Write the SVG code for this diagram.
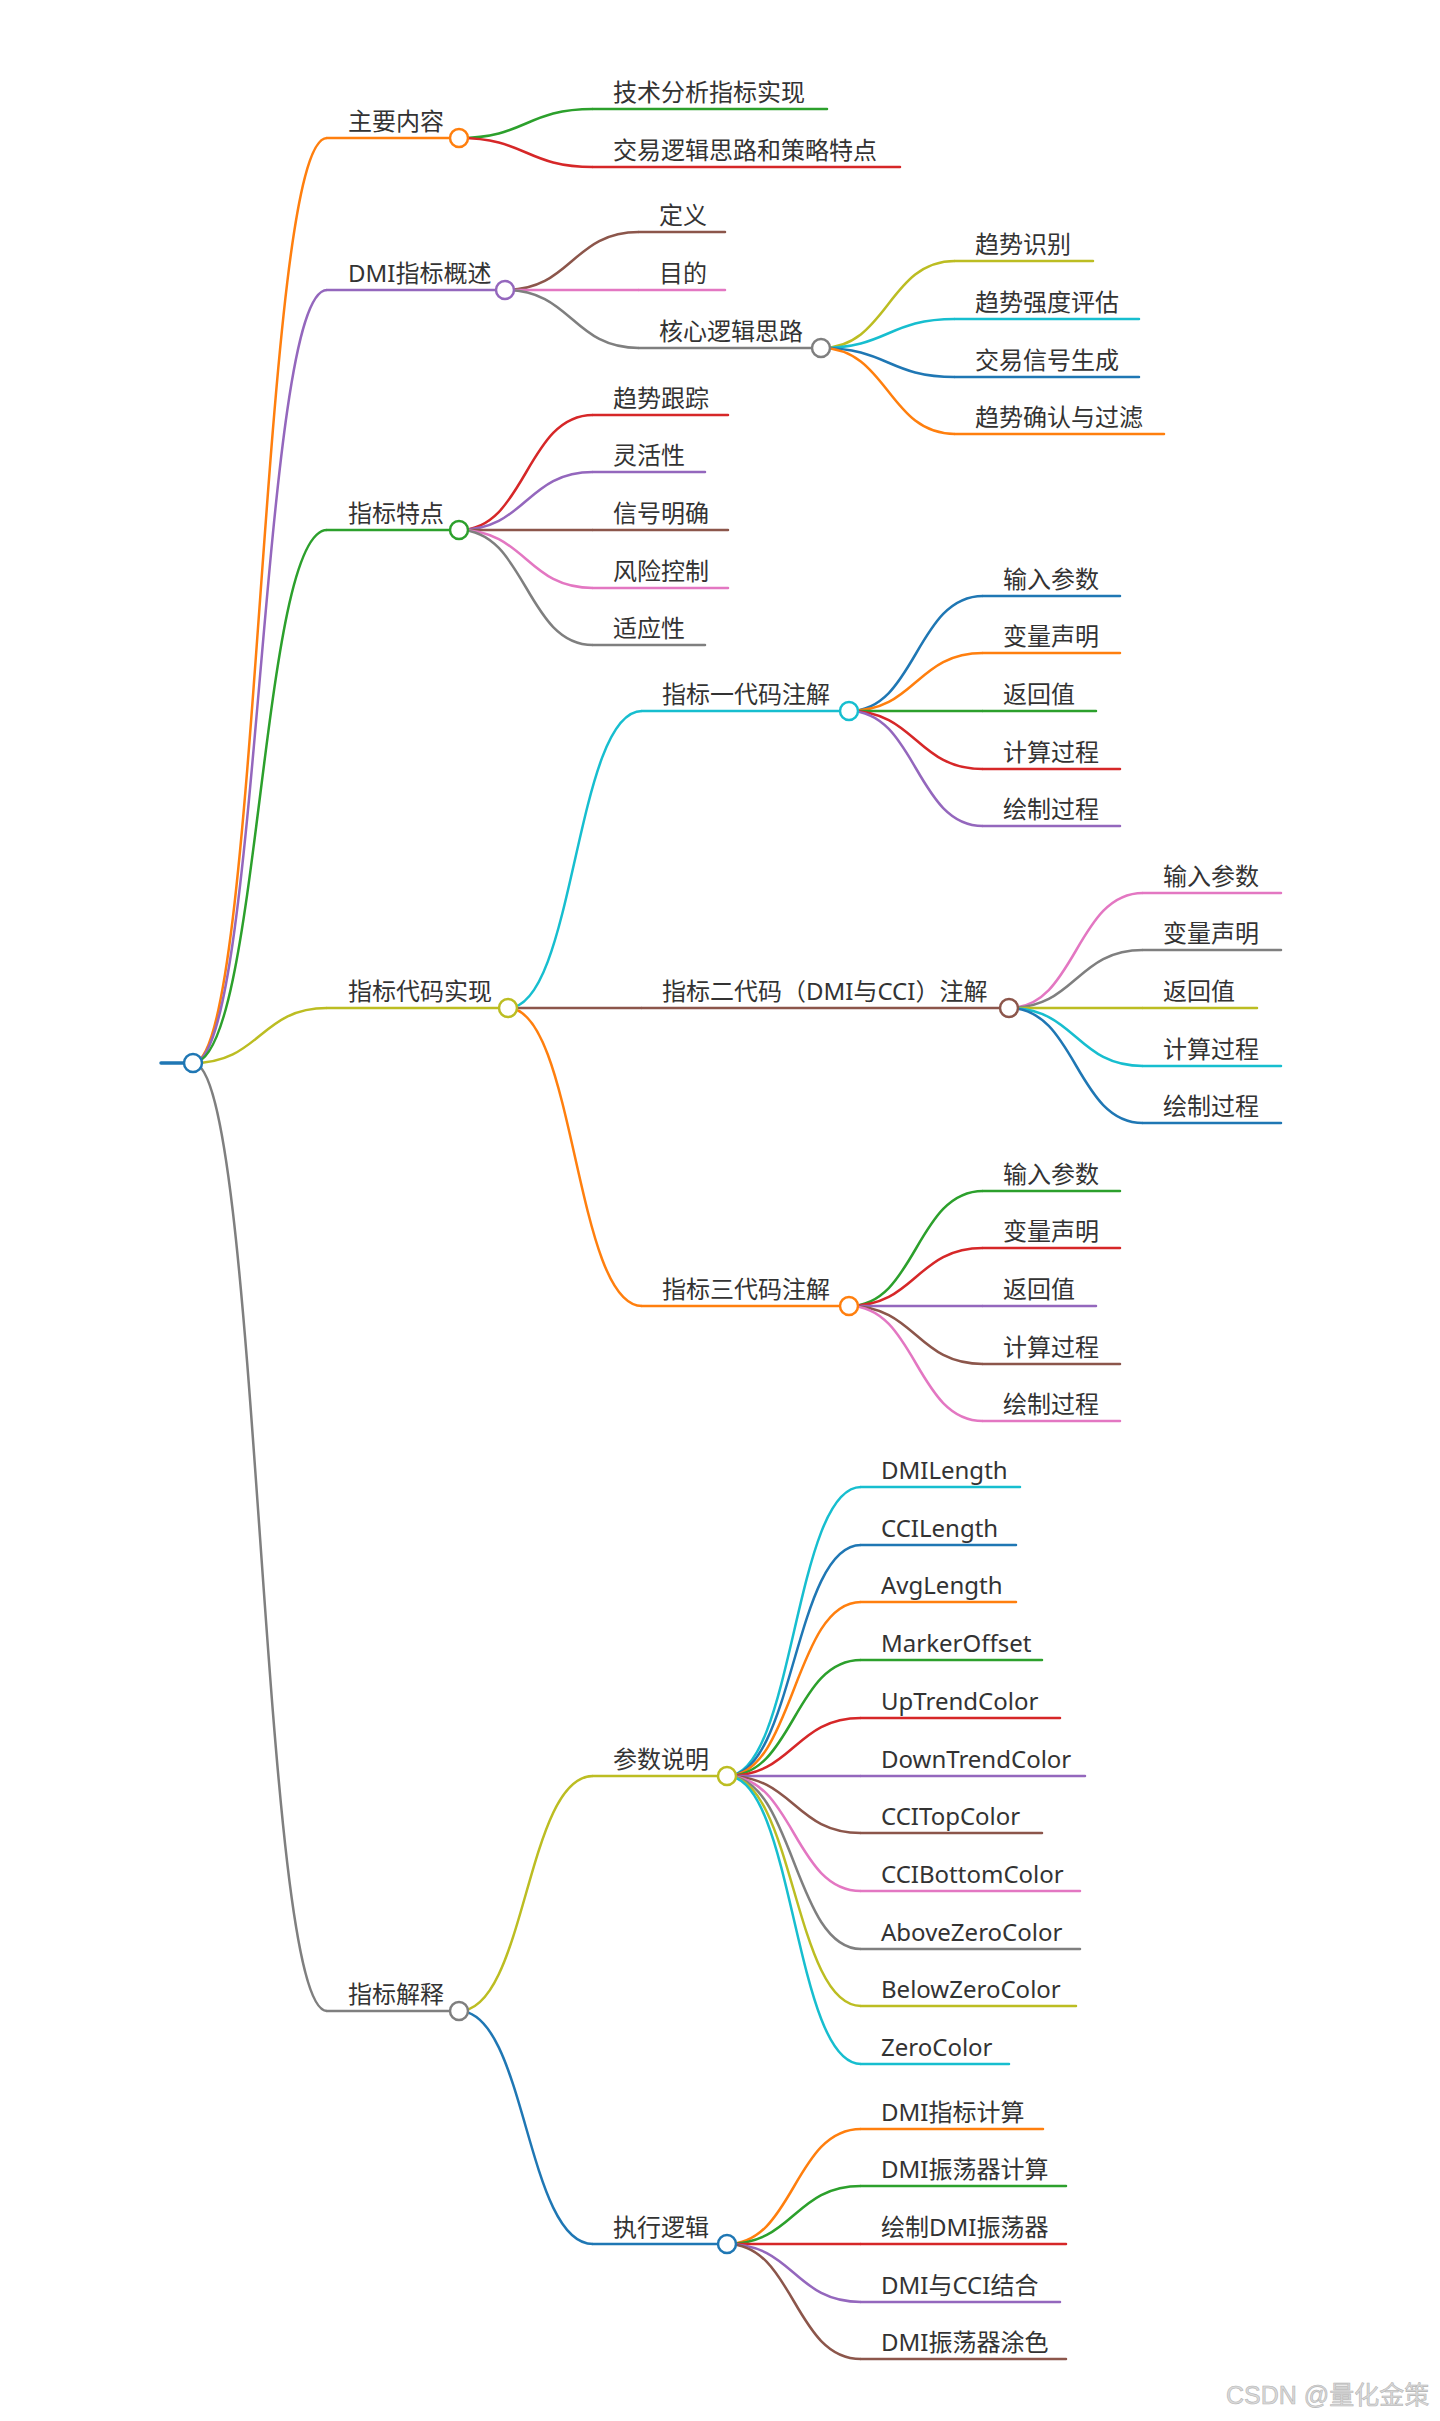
<svg xmlns="http://www.w3.org/2000/svg" width="1440" height="2421" viewBox="0 0 1440 2421">
<style>
.t{font-family:"Noto Sans","Noto Sans CJK SC",sans-serif;font-size:24px;fill:#333}
.u{fill:none;stroke-width:2.5;stroke-linecap:round}
.e{fill:none;stroke-width:2.5}
.c{fill:#fff;stroke-width:2.5}
.k0{stroke:#1f77b4}.k1{stroke:#ff7f0e}.k2{stroke:#2ca02c}.k3{stroke:#d62728}.k4{stroke:#9467bd}
.k5{stroke:#8c564b}.k6{stroke:#e377c2}.k7{stroke:#7f7f7f}.k8{stroke:#bcbd22}.k9{stroke:#17becf}
.wm{font-family:"Liberation Sans","Noto Sans CJK SC",sans-serif;font-size:25px;fill:#dadada;stroke:#b4b4b4;stroke-width:0.6}
</style>
<rect width="1440" height="2421" fill="#fff"/>
<g id="connectors">
<path class="e k1" d="M193,1063 C260,1063 260,138 327,138"/>
<path class="e k4" d="M193,1063 C260,1063 260,290 327,290"/>
<path class="e k2" d="M193,1063 C260,1063 260,530 327,530"/>
<path class="e k8" d="M193,1063 C260,1063 260,1008 327,1008"/>
<path class="e k7" d="M193,1063 C260,1063 260,2011 327,2011"/>
<path class="e k2" d="M459,138 C526,138 526,109 593,109"/>
<path class="e k3" d="M459,138 C526,138 526,167 593,167"/>
<path class="e k5" d="M505,290 C572,290 572,232 639,232"/>
<path class="e k6" d="M505,290 C572,290 572,290 639,290"/>
<path class="e k7" d="M505,290 C572,290 572,348 639,348"/>
<path class="e k8" d="M821,348 C888,348 888,261 955,261"/>
<path class="e k9" d="M821,348 C888,348 888,319 955,319"/>
<path class="e k0" d="M821,348 C888,348 888,377 955,377"/>
<path class="e k1" d="M821,348 C888,348 888,434 955,434"/>
<path class="e k3" d="M459,530 C526,530 526,415 593,415"/>
<path class="e k4" d="M459,530 C526,530 526,472 593,472"/>
<path class="e k5" d="M459,530 C526,530 526,530 593,530"/>
<path class="e k6" d="M459,530 C526,530 526,588 593,588"/>
<path class="e k7" d="M459,530 C526,530 526,645 593,645"/>
<path class="e k9" d="M508,1008 C575,1008 575,711 642,711"/>
<path class="e k5" d="M508,1008 C575,1008 575,1008 642,1008"/>
<path class="e k1" d="M508,1008 C575,1008 575,1306 642,1306"/>
<path class="e k0" d="M849,711 C916,711 916,596 983,596"/>
<path class="e k1" d="M849,711 C916,711 916,653 983,653"/>
<path class="e k2" d="M849,711 C916,711 916,711 983,711"/>
<path class="e k3" d="M849,711 C916,711 916,769 983,769"/>
<path class="e k4" d="M849,711 C916,711 916,826 983,826"/>
<path class="e k6" d="M1009,1008 C1076,1008 1076,893 1143,893"/>
<path class="e k7" d="M1009,1008 C1076,1008 1076,950 1143,950"/>
<path class="e k8" d="M1009,1008 C1076,1008 1076,1008 1143,1008"/>
<path class="e k9" d="M1009,1008 C1076,1008 1076,1066 1143,1066"/>
<path class="e k0" d="M1009,1008 C1076,1008 1076,1123 1143,1123"/>
<path class="e k2" d="M849,1306 C916,1306 916,1191 983,1191"/>
<path class="e k3" d="M849,1306 C916,1306 916,1248 983,1248"/>
<path class="e k4" d="M849,1306 C916,1306 916,1306 983,1306"/>
<path class="e k5" d="M849,1306 C916,1306 916,1364 983,1364"/>
<path class="e k6" d="M849,1306 C916,1306 916,1421 983,1421"/>
<path class="e k8" d="M459,2011 C526,2011 526,1776 593,1776"/>
<path class="e k0" d="M459,2011 C526,2011 526,2244 593,2244"/>
<path class="e k9" d="M727,1776 C794,1776 794,1487 861,1487"/>
<path class="e k0" d="M727,1776 C794,1776 794,1545 861,1545"/>
<path class="e k1" d="M727,1776 C794,1776 794,1602 861,1602"/>
<path class="e k2" d="M727,1776 C794,1776 794,1660 861,1660"/>
<path class="e k3" d="M727,1776 C794,1776 794,1718 861,1718"/>
<path class="e k4" d="M727,1776 C794,1776 794,1776 861,1776"/>
<path class="e k5" d="M727,1776 C794,1776 794,1833 861,1833"/>
<path class="e k6" d="M727,1776 C794,1776 794,1891 861,1891"/>
<path class="e k7" d="M727,1776 C794,1776 794,1949 861,1949"/>
<path class="e k8" d="M727,1776 C794,1776 794,2006 861,2006"/>
<path class="e k9" d="M727,1776 C794,1776 794,2064 861,2064"/>
<path class="e k1" d="M727,2244 C794,2244 794,2129 861,2129"/>
<path class="e k2" d="M727,2244 C794,2244 794,2186 861,2186"/>
<path class="e k3" d="M727,2244 C794,2244 794,2244 861,2244"/>
<path class="e k4" d="M727,2244 C794,2244 794,2302 861,2302"/>
<path class="e k5" d="M727,2244 C794,2244 794,2359 861,2359"/>
</g>
<g id="root"><line class="u k0" x1="161" y1="1063" x2="190" y2="1063" style="stroke-width:3.5"/><circle class="c k0" cx="193" cy="1063" r="9"/></g>
<g id="n-zhuyao"><line class="u k1" x1="327" y1="138" x2="459" y2="138"/><text class="t" x="348" y="130">主要内容</text><circle class="c k1" cx="459" cy="138" r="9"/></g>
<g id="n-jishu"><line class="u k2" x1="593" y1="109" x2="827" y2="109"/><text class="t" x="613" y="101">技术分析指标实现</text></g>
<g id="n-jiaoyi"><line class="u k3" x1="593" y1="167" x2="900" y2="167"/><text class="t" x="613" y="159">交易逻辑思路和策略特点</text></g>
<g id="n-dmigs"><line class="u k4" x1="327" y1="290" x2="505" y2="290"/><text class="t" x="348" y="282">DMI指标概述</text><circle class="c k4" cx="505" cy="290" r="9"/></g>
<g id="n-dingyi"><line class="u k5" x1="639" y1="232" x2="725" y2="232"/><text class="t" x="659" y="224">定义</text></g>
<g id="n-mudi"><line class="u k6" x1="639" y1="290" x2="725" y2="290"/><text class="t" x="659" y="282">目的</text></g>
<g id="n-hexin"><line class="u k7" x1="639" y1="348" x2="821" y2="348"/><text class="t" x="659" y="340">核心逻辑思路</text><circle class="c k7" cx="821" cy="348" r="9"/></g>
<g id="n-qsb"><line class="u k8" x1="955" y1="261" x2="1093" y2="261"/><text class="t" x="975" y="253">趋势识别</text></g>
<g id="n-qsqd"><line class="u k9" x1="955" y1="319" x2="1139" y2="319"/><text class="t" x="975" y="311">趋势强度评估</text></g>
<g id="n-jyxh"><line class="u k0" x1="955" y1="377" x2="1139" y2="377"/><text class="t" x="975" y="369">交易信号生成</text></g>
<g id="n-qsqr"><line class="u k1" x1="955" y1="434" x2="1164" y2="434"/><text class="t" x="975" y="426">趋势确认与过滤</text></g>
<g id="n-tedian"><line class="u k2" x1="327" y1="530" x2="459" y2="530"/><text class="t" x="348" y="522">指标特点</text><circle class="c k2" cx="459" cy="530" r="9"/></g>
<g id="n-qsgz"><line class="u k3" x1="593" y1="415" x2="728" y2="415"/><text class="t" x="613" y="407">趋势跟踪</text></g>
<g id="n-lhx"><line class="u k4" x1="593" y1="472" x2="705" y2="472"/><text class="t" x="613" y="464">灵活性</text></g>
<g id="n-xhmq"><line class="u k5" x1="593" y1="530" x2="728" y2="530"/><text class="t" x="613" y="522">信号明确</text></g>
<g id="n-fxkz"><line class="u k6" x1="593" y1="588" x2="728" y2="588"/><text class="t" x="613" y="580">风险控制</text></g>
<g id="n-syx"><line class="u k7" x1="593" y1="645" x2="705" y2="645"/><text class="t" x="613" y="637">适应性</text></g>
<g id="n-daima"><line class="u k8" x1="327" y1="1008" x2="508" y2="1008"/><text class="t" x="348" y="1000">指标代码实现</text><circle class="c k8" cx="508" cy="1008" r="9"/></g>
<g id="n-zb1"><line class="u k9" x1="642" y1="711" x2="849" y2="711"/><text class="t" x="662" y="703">指标一代码注解</text><circle class="c k9" cx="849" cy="711" r="9"/></g>
<g id="n-zb1-1"><line class="u k0" x1="983" y1="596" x2="1120" y2="596"/><text class="t" x="1003" y="588">输入参数</text></g>
<g id="n-zb1-2"><line class="u k1" x1="983" y1="653" x2="1120" y2="653"/><text class="t" x="1003" y="645">变量声明</text></g>
<g id="n-zb1-3"><line class="u k2" x1="983" y1="711" x2="1096" y2="711"/><text class="t" x="1003" y="703">返回值</text></g>
<g id="n-zb1-4"><line class="u k3" x1="983" y1="769" x2="1120" y2="769"/><text class="t" x="1003" y="761">计算过程</text></g>
<g id="n-zb1-5"><line class="u k4" x1="983" y1="826" x2="1120" y2="826"/><text class="t" x="1003" y="818">绘制过程</text></g>
<g id="n-zb2"><line class="u k5" x1="642" y1="1008" x2="1009" y2="1008"/><text class="t" x="662" y="1000">指标二代码（DMI与CCI）注解</text><circle class="c k5" cx="1009" cy="1008" r="9"/></g>
<g id="n-zb2-1"><line class="u k6" x1="1143" y1="893" x2="1281" y2="893"/><text class="t" x="1163" y="885">输入参数</text></g>
<g id="n-zb2-2"><line class="u k7" x1="1143" y1="950" x2="1281" y2="950"/><text class="t" x="1163" y="942">变量声明</text></g>
<g id="n-zb2-3"><line class="u k8" x1="1143" y1="1008" x2="1257" y2="1008"/><text class="t" x="1163" y="1000">返回值</text></g>
<g id="n-zb2-4"><line class="u k9" x1="1143" y1="1066" x2="1281" y2="1066"/><text class="t" x="1163" y="1058">计算过程</text></g>
<g id="n-zb2-5"><line class="u k0" x1="1143" y1="1123" x2="1281" y2="1123"/><text class="t" x="1163" y="1115">绘制过程</text></g>
<g id="n-zb3"><line class="u k1" x1="642" y1="1306" x2="849" y2="1306"/><text class="t" x="662" y="1298">指标三代码注解</text><circle class="c k1" cx="849" cy="1306" r="9"/></g>
<g id="n-zb3-1"><line class="u k2" x1="983" y1="1191" x2="1120" y2="1191"/><text class="t" x="1003" y="1183">输入参数</text></g>
<g id="n-zb3-2"><line class="u k3" x1="983" y1="1248" x2="1120" y2="1248"/><text class="t" x="1003" y="1240">变量声明</text></g>
<g id="n-zb3-3"><line class="u k4" x1="983" y1="1306" x2="1096" y2="1306"/><text class="t" x="1003" y="1298">返回值</text></g>
<g id="n-zb3-4"><line class="u k5" x1="983" y1="1364" x2="1120" y2="1364"/><text class="t" x="1003" y="1356">计算过程</text></g>
<g id="n-zb3-5"><line class="u k6" x1="983" y1="1421" x2="1120" y2="1421"/><text class="t" x="1003" y="1413">绘制过程</text></g>
<g id="n-jieshi"><line class="u k7" x1="327" y1="2011" x2="459" y2="2011"/><text class="t" x="348" y="2003">指标解释</text><circle class="c k7" cx="459" cy="2011" r="9"/></g>
<g id="n-canshu"><line class="u k8" x1="593" y1="1776" x2="727" y2="1776"/><text class="t" x="613" y="1768">参数说明</text><circle class="c k8" cx="727" cy="1776" r="9"/></g>
<g id="n-p1"><line class="u k9" x1="861" y1="1487" x2="1020" y2="1487"/><text class="t" x="881" y="1479">DMILength</text></g>
<g id="n-p2"><line class="u k0" x1="861" y1="1545" x2="1016" y2="1545"/><text class="t" x="881" y="1537">CCILength</text></g>
<g id="n-p3"><line class="u k1" x1="861" y1="1602" x2="1016" y2="1602"/><text class="t" x="881" y="1594">AvgLength</text></g>
<g id="n-p4"><line class="u k2" x1="861" y1="1660" x2="1042" y2="1660"/><text class="t" x="881" y="1652">MarkerOffset</text></g>
<g id="n-p5"><line class="u k3" x1="861" y1="1718" x2="1060" y2="1718"/><text class="t" x="881" y="1710">UpTrendColor</text></g>
<g id="n-p6"><line class="u k4" x1="861" y1="1776" x2="1085" y2="1776"/><text class="t" x="881" y="1768">DownTrendColor</text></g>
<g id="n-p7"><line class="u k5" x1="861" y1="1833" x2="1042" y2="1833"/><text class="t" x="881" y="1825">CCITopColor</text></g>
<g id="n-p8"><line class="u k6" x1="861" y1="1891" x2="1080" y2="1891"/><text class="t" x="881" y="1883">CCIBottomColor</text></g>
<g id="n-p9"><line class="u k7" x1="861" y1="1949" x2="1080" y2="1949"/><text class="t" x="881" y="1941">AboveZeroColor</text></g>
<g id="n-p10"><line class="u k8" x1="861" y1="2006" x2="1076" y2="2006"/><text class="t" x="881" y="1998">BelowZeroColor</text></g>
<g id="n-p11"><line class="u k9" x1="861" y1="2064" x2="1009" y2="2064"/><text class="t" x="881" y="2056">ZeroColor</text></g>
<g id="n-zhixing"><line class="u k0" x1="593" y1="2244" x2="727" y2="2244"/><text class="t" x="613" y="2236">执行逻辑</text><circle class="c k0" cx="727" cy="2244" r="9"/></g>
<g id="n-x1"><line class="u k1" x1="861" y1="2129" x2="1043" y2="2129"/><text class="t" x="881" y="2121">DMI指标计算</text></g>
<g id="n-x2"><line class="u k2" x1="861" y1="2186" x2="1066" y2="2186"/><text class="t" x="881" y="2178">DMI振荡器计算</text></g>
<g id="n-x3"><line class="u k3" x1="861" y1="2244" x2="1066" y2="2244"/><text class="t" x="881" y="2236">绘制DMI振荡器</text></g>
<g id="n-x4"><line class="u k4" x1="861" y1="2302" x2="1060" y2="2302"/><text class="t" x="881" y="2294">DMI与CCI结合</text></g>
<g id="n-x5"><line class="u k5" x1="861" y1="2359" x2="1066" y2="2359"/><text class="t" x="881" y="2351">DMI振荡器涂色</text></g>
<text class="wm" x="1226" y="2404">CSDN @量化金策</text>
</svg>
